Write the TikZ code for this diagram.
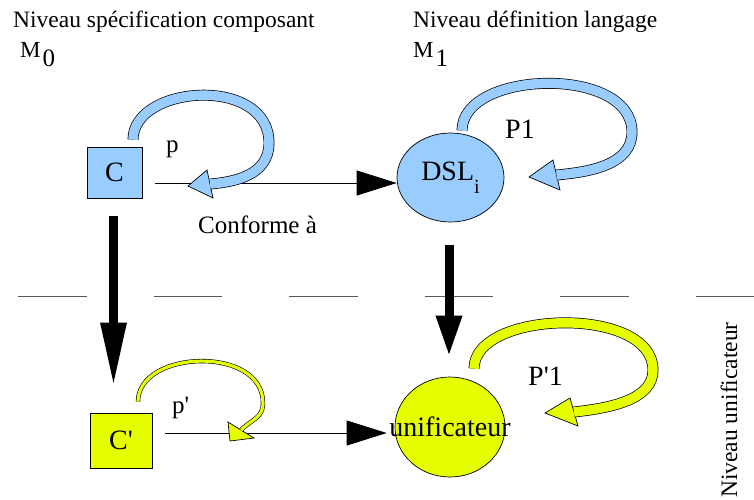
\documentclass[tikz,border=0pt]{standalone}
\usepackage{fontspec}
\setmainfont{Liberation Serif}
\usepackage{tikz}
\usetikzlibrary{shapes.geometric,arrows.meta}
\definecolor{skyblue}{HTML}{99CCFF}
\definecolor{lemon}{HTML}{E6FF00}
\newcommand\topsize{\fontsize{23.5}{26}\selectfont}
\newcommand\lblsize{\fontsize{25}{28}\selectfont}
\newcommand\nodesize{\fontsize{28}{30}\selectfont}
\newcommand\q{\textquotesingle}
\def\bw{9.5pt}
\tikzset{
	compbox/.style={
		rectangle,
		draw=black,
		line width=.7pt,
		inner sep=0pt,
		font=\nodesize,
	},
	langblob/.style={
		ellipse,
		draw=black,
		line width=.7pt,
		inner sep=0pt,
		font=\nodesize,
	},
	txt/.style={inner sep=0pt, anchor=base west},
	conform/.style={
		line width=.8pt,
		-{Triangle[length=40pt,width=25pt]},
	},
	descent/.style={line width=9pt},
	band/.style={
		draw=black,
		line width=.7pt,
		double=#1,
		double distance=\bw,
	},
	tiphead/.style={
		fill=#1,
		draw=black,
		line width=.7pt,
	},
	levelsep/.style={
		draw=black!65,
		line width=1pt,
		dash pattern=on 68.5pt off 67pt,
	},
}
\begin{document}
\begin{tikzpicture}[x=1pt,y=-1pt]
    \useasboundingbox (0,0) rectangle (754,499);

    % levels
    \node[txt, font=\topsize] (lvl0) at (13,27) {Niveau spécification composant};
    \node[txt] (m0) at (20,57) {\fontsize{23}{25}\selectfont M\hspace{2pt}\raisebox{-9pt}{\fontsize{25}{27}\selectfont 0}};
    \node[txt, font=\topsize] (lvl1) at (413,27) {Niveau définition langage};
    \node[txt] (m1) at (413,57) {\fontsize{23}{25}\selectfont M\hspace{2pt}\raisebox{-9pt}{\fontsize{25}{27}\selectfont 1}};
    \node[inner sep=0pt, font=\topsize, rotate=90] (lvlU) at (729,410) {Niveau unificateur};

    \draw[levelsep] (18,296.5) -- (754,296.5);

    % nodes
    \node[compbox, fill=skyblue, minimum width=55pt, minimum height=51pt] (C) at (114.5,172.5) {C};
    \node[compbox, fill=lemon, minimum width=62pt, minimum height=55pt] (Cp) at (121,440.5) {C\q};
    \node[langblob, fill=skyblue, minimum width=107pt, minimum height=89pt] (DSL) at (450.5,177.5) {DSL\raisebox{-13pt}{\fontsize{20}{22}\selectfont i}};
    \node[langblob, fill=lemon, minimum width=110pt, minimum height=100pt] (U) at (450,427) {\makebox[0pt]{unificateur}};

    % conforme a
    \draw[conform] ([shift={(13,10.5)}]C.east) -- ([shift={(0,5.5)}]DSL.west);
    \node[txt, font=\lblsize] (conf) at (198,233) {Conforme à};
    \draw[conform] ([shift={(13,-7.5)}]Cp.east) -- ([shift={(-8,6)}]U.west);

    % unification
    \draw[descent, -{Triangle[length=64pt,width=24pt]}] ([shift={(-1,18)}]C.south) -- ([shift={(-7.5,-26)}]Cp.north);
    \draw[descent, -{Triangle[length=41pt,width=24pt]}] ([shift={(-1.5,23)}]DSL.south) -- ([shift={(-1,-20)}]U.north);

    % p
    \coordinate (pTip) at (188,186);
    \filldraw[tiphead=skyblue] (207,170) -- (pTip) -- (213,198) -- cycle;
    \draw[band=skyblue] ([shift={(18.5,-7)}]C.north) .. controls +(0,-55) and +(0,-68) .. (269,143) .. controls +(0,32) and +(25,-2) .. (210,184);
    \node[txt, font=\lblsize] (p) at (166,152) {p};

    % P1
    \coordinate (PTip) at (529,177);
    \filldraw[tiphead=skyblue] (553,160) -- (PTip) -- (560,190) -- cycle;
    \draw[band=skyblue] ([shift={(11.5,-2)}]DSL.north) .. controls +(0,-61) and +(0,-67) .. (632,132) .. controls +(0,33) and +(33,-3) .. (556.5,175);
    \node[txt, font=\nodesize] (P1) at (505,138) {P1};

    % p'
    \coordinate (ppTip) at (230,441);
    \filldraw[tiphead=lemon] (228,422) -- (ppTip) -- (254,438) -- cycle;
    \draw[band=lemon, double distance=3.2pt, line width=.6pt] ([shift={(17,-11)}]Cp.north) .. controls +(0,-52) and +(0,-58) .. (263,403) .. controls +(0,15) and +(11,-11) .. (241,430);
    \node[txt, font=\lblsize] (pp) at (172,413) {p\q};

    % P'1
    \coordinate (PPTip) at (545,413);
    \filldraw[tiphead=lemon] (570,398) -- (PPTip) -- (578,426) -- cycle;
    \draw[band=lemon] ([shift={(24,-8)}]U.north) .. controls +(0,-59) and +(0,-65) .. (653,370) .. controls +(0,30) and +(36,-4) .. (574,412);
    \node[txt, font=\nodesize] (PP1) at (528,385) {P\q1};
\end{tikzpicture}
\end{document}
